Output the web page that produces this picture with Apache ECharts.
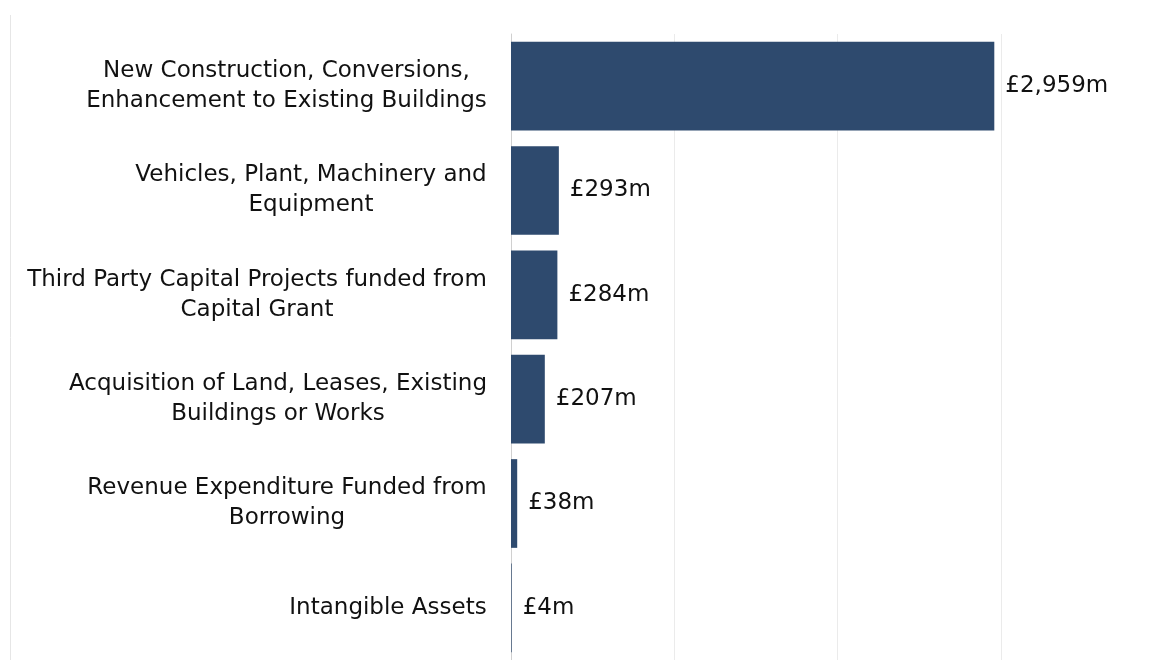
<!DOCTYPE html>
<html>
<head>
<meta charset="utf-8">
<script src="https://cdn.jsdelivr.net/npm/echarts@6/dist/echarts.min.js"></script>
<style>
  html, body { margin: 0; padding: 0; background: #fff; }
  #chart { width: 1151px; height: 660px; }
</style>
</head>
<body>
<div id="chart"></div>
<script>
// capital expenditure by category, £m
var categories = [
    'New Construction, Conversions,\nEnhancement to Existing Buildings',
    'Vehicles, Plant, Machinery and\nEquipment',
    'Third Party Capital Projects funded from\nCapital Grant',
    'Acquisition of Land, Leases, Existing\nBuildings or Works',
    'Revenue Expenditure Funded from\nBorrowing',
    'Intangible Assets'
];
var values = [2959, 293, 284, 207, 38, 4];
var xTicks = [0, 1000, 2000, 3000];

var FONT = '"DejaVu Sans", "Liberation Sans", Arial, sans-serif';
var FONT_SIZE = 23;

// lines of each category label are centred on each other, block right-aligned
var measureCtx = document.createElement('canvas').getContext('2d');
measureCtx.font = FONT_SIZE + 'px ' + FONT;
var rich = {};
categories.forEach(function (c, i) {
    var w = 0;
    c.split('\n').forEach(function (line) {
        w = Math.max(w, measureCtx.measureText(line).width);
    });
    rich['c' + i] = {
        width: Math.ceil(w),
        align: 'center',
        fontFamily: FONT,
        fontSize: FONT_SIZE,
        lineHeight: 30,
        color: '#111'
    };
});

var chart = echarts.init(document.getElementById('chart'));

var option = {
    animation: false,
    backgroundColor: '#fff',
    textStyle: { fontFamily: FONT },
    grid: { left: 511, right: 150, top: 34, bottom: 0, containLabel: false },
    graphic: [{
        type: 'line',
        shape: { x1: 10.5, y1: 15, x2: 10.5, y2: 660 },
        style: { stroke: '#e6e6e6', lineWidth: 1 }
    }],
    xAxis: {
        type: 'value',
        min: xTicks[0],
        max: xTicks[xTicks.length - 1],
        interval: 1000,
        axisLabel: { show: false },
        axisLine: { show: false },
        axisTick: { show: false },
        splitLine: { show: true, lineStyle: { color: '#ebebeb', width: 1 } }
    },
    yAxis: {
        type: 'category',
        inverse: true,
        data: categories,
        axisLine: { show: true, lineStyle: { color: '#d0d0d0', width: 1 } },
        axisTick: { show: false },
        axisLabel: {
            color: '#111',
            fontFamily: FONT,
            fontSize: FONT_SIZE,
            lineHeight: 30,
            margin: 24,
            align: 'right',
            rich: rich,
            formatter: function (value, index) {
                return value.split('\n').map(function (line) {
                    return '{c' + index + '|' + line + '}';
                }).join('\n');
            }
        }
    },
    series: [{
        type: 'bar',
        data: values,
        barCategoryGap: '15%',
        itemStyle: { color: '#2e4a6e' },
        label: {
            show: true,
            position: 'right',
            distance: 11,
            color: '#111',
            fontFamily: FONT,
            fontSize: FONT_SIZE,
            formatter: function (p) {
                return '£' + p.value.toLocaleString('en-GB') + 'm';
            }
        }
    }]
};

chart.setOption(option);
</script>
</body>
</html>
